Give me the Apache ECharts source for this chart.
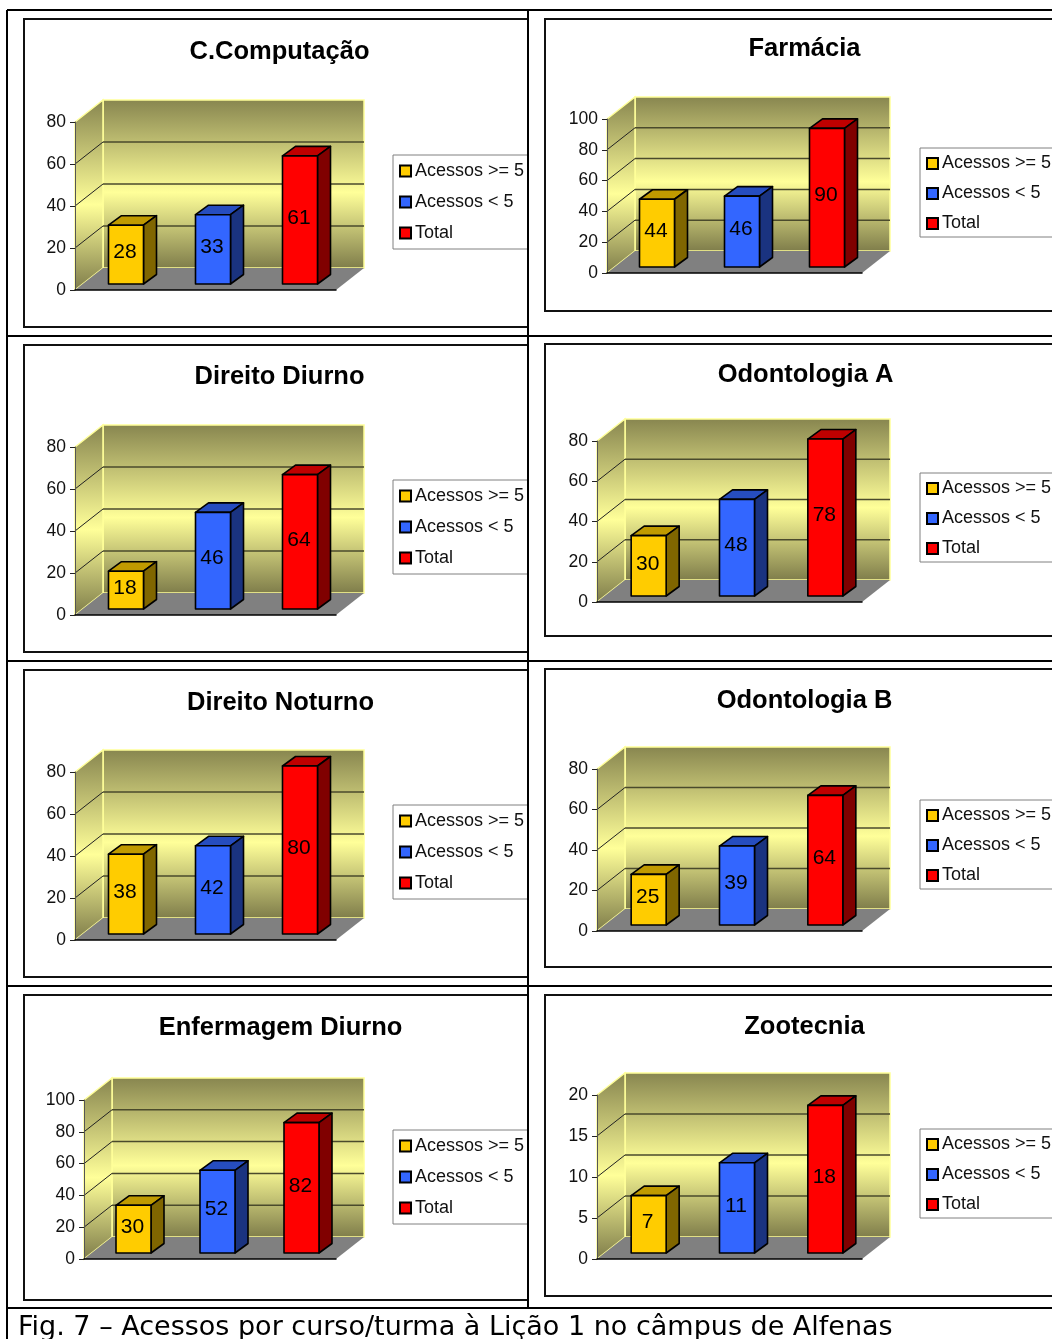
<!DOCTYPE html>
<html>
<head>
<meta charset="utf-8">
<style>html,body{margin:0;padding:0;background:#fff}#chart{width:1052px;height:1339px}</style>
<script src="https://cdn.jsdelivr.net/npm/echarts@6/dist/echarts.min.js"></script>
</head>
<body>
<div id="chart"></div>
<script>
var courses = ['C.Computação','Farmácia','Direito Diurno','Odontologia A','Direito Noturno','Odontologia B','Enfermagem Diurno','Zootecnia'];
var seriesNames = ['Acessos >= 5','Acessos < 5','Total'];
var acessosMais = [28,44,18,30,38,25,30,7];
var acessosMenos = [33,46,46,48,42,39,52,11];
var acessosTotal = [61,90,64,78,80,64,82,18];
var axisMax = [80,100,80,80,80,80,100,20];
var axisStep = [20,20,20,20,20,20,20,5];
var caption = 'Fig. 7 – Acessos por curso/turma à Lição 1 no câmpus de Alfenas';

// layout of each panel: box, title, plot front plane, legend
var layout = [
  {px:24, py:19,  pw:504,ph:308,tx:280,ty:50,  x0:75, w:261,top:122, bot:290, lx:393,ly:155, gap:13,padT:7,padB:7},
  {px:545,py:19,  pw:520,ph:292,tx:805,ty:47,  x0:607,w:255,top:119, bot:273, lx:920,ly:148, gap:12,padT:6.5,padB:4.5},
  {px:24, py:345, pw:504,ph:307,tx:280,ty:375, x0:75, w:261,top:447, bot:615, lx:393,ly:480, gap:13,padT:7,padB:7},
  {px:545,py:344, pw:520,ph:292,tx:806,ty:373, x0:597,w:265,top:441, bot:602, lx:920,ly:473, gap:12,padT:6.5,padB:4.5},
  {px:24, py:670, pw:504,ph:307,tx:281,ty:701, x0:75, w:261,top:772, bot:940, lx:393,ly:805, gap:13,padT:7,padB:7},
  {px:545,py:669, pw:520,ph:298,tx:805,ty:699, x0:597,w:265,top:769, bot:931, lx:920,ly:800, gap:12,padT:6.5,padB:4.5},
  {px:24, py:995, pw:504,ph:305,tx:281,ty:1026,x0:84, w:252,top:1100,bot:1259,lx:393,ly:1130,gap:13,padT:7,padB:7},
  {px:545,py:995, pw:520,ph:301,tx:805,ty:1025,x0:597,w:265,top:1095,bot:1259,lx:920,ly:1129,gap:12,padT:6.5,padB:4.5}
];

var faceColors = ['#ffcc00','#3366ff','#ff0000'];
var topColors = ['#c09a00','#264dbf','#bf0000'];
var sideColors = ['#806600','#1a3380','#800000'];
var fontName = '"Liberation Sans", Arial, sans-serif';
var depthX = 28, depthY = 22;

function wallFill(){
  return new echarts.graphic.LinearGradient(0,0,0,1,[
    {offset:0,color:'#87854f'},
    {offset:0.55,color:'#ffff99'},
    {offset:1,color:'#7e7c4a'}
  ]);
}

function renderWalls(params, api){
  var cs = params.coordSys;
  var val = api.value(1);
  var p = api.coord([0,val]);
  var y = p[1];
  var left = cs.x, right = cs.x+cs.width, topY = cs.y, botY = cs.y+cs.height;
  var kids = [];
  if(params.dataIndex===0){
    kids.push({type:'rect',shape:{x:left+depthX,y:topY-depthY,width:cs.width,height:cs.height},
      style:{fill:wallFill(),stroke:'#ffff99',lineWidth:1.5}});
    kids.push({type:'polygon',shape:{points:[[left,botY],[left+depthX,botY-depthY],[left+depthX,topY-depthY],[left,topY]]},
      style:{fill:wallFill(),stroke:'#ffff99',lineWidth:1.5}});
    kids.push({type:'polygon',shape:{points:[[left,botY],[left+depthX,botY-depthY],[right+depthX,botY-depthY],[right,botY]]},
      style:{fill:'#808080'}});
  } else if(val<axisMaxOf(params)){
    kids.push({type:'line',shape:{x1:left,y1:y,x2:left+depthX,y2:y-depthY},style:{stroke:'#222',lineWidth:1}});
    kids.push({type:'line',shape:{x1:left+depthX,y1:y-depthY,x2:right+depthX,y2:y-depthY},style:{stroke:'#4a4a2c',lineWidth:1.5}});
  }
  return {type:'group',children:kids};
}
function axisMaxOf(params){
  return axisMax[Math.floor(params.seriesIndex/4)];
}

function renderBar(colorIdx){
  return function(params, api){
    var cat = api.value(0), val = api.value(1);
    var t = api.coord([cat,val]), b = api.coord([cat,0]);
    var sx = 7.5, sy = 6, hw = 17.5, bd = 13, bdy = 9.5;
    var l = t[0]+sx-hw, r = t[0]+sx+hw, ty = t[1]-sy, by = b[1]-sy;
    var line = {stroke:'#000',lineWidth:1.6,lineJoin:'round'};
    return {type:'group',children:[
      {type:'polygon',shape:{points:[[l,ty],[l+bd,ty-bdy],[r+bd,ty-bdy],[r,ty]]},style:Object.assign({fill:topColors[colorIdx]},line)},
      {type:'polygon',shape:{points:[[r,ty],[r+bd,ty-bdy],[r+bd,by-bdy],[r,by]]},style:Object.assign({fill:sideColors[colorIdx]},line)},
      {type:'rect',shape:{x:l,y:ty,width:r-l,height:by-ty},style:Object.assign({fill:faceColors[colorIdx]},line)},
      {type:'text',style:{text:String(val),x:(l+r)/2-1,y:(ty+by)/2-2,align:'center',verticalAlign:'middle',
        font:'21px '+fontName,fill:'#000'}}
    ]};
  };
}

var grids=[],xAxes=[],yAxes=[],titles=[],legends=[],seriesList=[],shapes=[];

shapes.push({type:'rect',z:-5,shape:{x:0,y:0,width:1052,height:1339},style:{fill:'#fff'}});

courses.forEach(function(name,i){
  var g = layout[i];
  grids.push({left:g.x0,top:g.top,width:g.w,height:g.bot-g.top});
  xAxes.push({type:'category',gridIndex:i,data:seriesNames,z:3,
    axisLine:{show:true,lineStyle:{color:'#000',width:1.5}},axisTick:{show:false},axisLabel:{show:false}});
  yAxes.push({type:'value',gridIndex:i,min:0,max:axisMax[i],interval:axisStep[i],z:3,
    splitLine:{show:false},
    axisLine:{show:true,lineStyle:{color:'#555',width:1}},
    axisTick:{show:true,length:5,lineStyle:{color:'#222'}},
    axisLabel:{margin:9,fontFamily:fontName,fontSize:17.5,color:'#111'}});
  titles.push({text:name,left:g.tx-5.5,top:g.ty-16,textAlign:'center',
    textStyle:{fontFamily:fontName,fontSize:25.5,fontWeight:'bold',color:'#000'}});
  legends.push({orient:'vertical',left:g.lx,top:g.ly,data:seriesNames,icon:'rect',
    itemWidth:11,itemHeight:11,itemGap:g.gap,padding:[g.padT,14,g.padB,6],
    borderColor:'#808080',borderWidth:1,backgroundColor:'#fff',selectedMode:false,
    textStyle:{fontFamily:fontName,fontSize:18,color:'#111',padding:[0,0,0,-1]}});

  var ticks=[];
  for(var v=0;v<=axisMax[i];v+=axisStep[i]) ticks.push([0,v]);
  seriesList.push({type:'custom',name:'paredes'+i,xAxisIndex:i,yAxisIndex:i,z:1,silent:true,
    encode:{x:0,y:1},data:ticks,renderItem:renderWalls,animation:false});

  [acessosMais[i],acessosMenos[i],acessosTotal[i]].forEach(function(val,k){
    seriesList.push({type:'custom',name:seriesNames[k],xAxisIndex:i,yAxisIndex:i,z:2,
      itemStyle:{color:faceColors[k],borderColor:'#000',borderWidth:1.5},
      encode:{x:0,y:1},data:[[k,val]],renderItem:renderBar(k),animation:false});
  });

  shapes.push({type:'rect',z:-1,shape:{x:g.px,y:g.py,width:g.pw,height:g.ph},
    style:{fill:'#fff',stroke:'#111',lineWidth:2}});
});

// table lines go over everything
[[7,10,1060,10],[7,336,1060,336],[7,661,1060,661],[7,986,1060,986],[7,1308,1060,1308],[7,10,7,1339],[528,10,528,1308]].forEach(function(c){
  shapes.push({type:'line',z:20,shape:{x1:c[0],y1:c[1],x2:c[2],y2:c[3]},style:{stroke:'#000',lineWidth:2}});
});
shapes.push({type:'rect',z:15,shape:{x:529,y:11,width:15,height:1296},style:{fill:'#fff'}});
shapes.push({type:'text',z:20,style:{text:caption,x:18,y:1328,verticalAlign:'middle',
  font:'27px "DejaVu Sans", Verdana, sans-serif',fill:'#000'}});

var myChart = echarts.init(document.getElementById('chart'),null,{renderer:'canvas'});
myChart.setOption({
  animation:false,
  backgroundColor:'#fff',
  title:titles,
  legend:legends,
  grid:grids,
  xAxis:xAxes,
  yAxis:yAxes,
  series:seriesList,
  graphic:{elements:shapes}
});
</script>
</body>
</html>
